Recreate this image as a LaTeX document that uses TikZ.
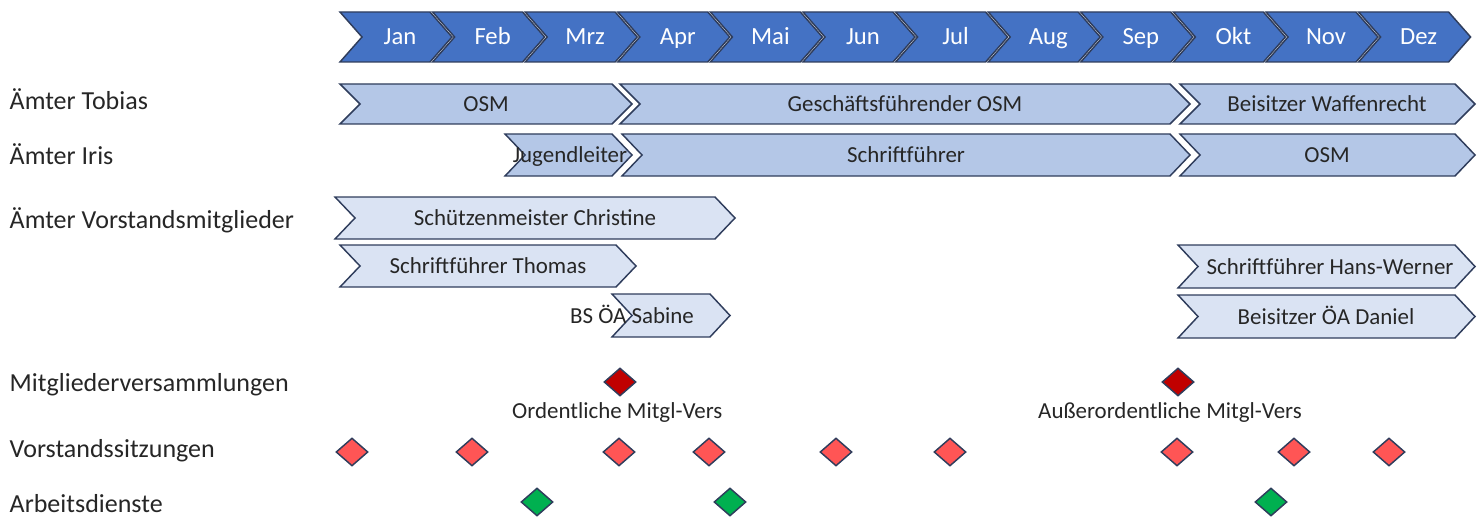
\documentclass[tikz,border=0pt]{standalone}
\usepackage{fontspec}
\setmainfont{Carlito}
\usetikzlibrary{shapes.geometric,positioning}

\definecolor{monthblue}{HTML}{4472C4}
\definecolor{barblue}{HTML}{B4C7E7}
\definecolor{paleblue}{HTML}{DAE3F3}
\definecolor{edgeblue}{HTML}{2F3D5C}
\definecolor{textgrey}{HTML}{262626}
\definecolor{mvred}{HTML}{C00000}
\definecolor{vsred}{HTML}{FF5555}
\definecolor{adgreen}{HTML}{00B050}

% chevron: [style]{left}{tip}{top}{bottom}{depth}
\newcommand{\chevron}[6][barstyle]{%
  \draw[#1] (#2,#4) -- ({#3-#6},#4) -- (#3,{(#4+#5)/2}) -- ({#3-#6},#5) -- (#2,#5) -- ({#2+#6},{(#4+#5)/2}) -- cycle;}

\begin{document}
\begin{tikzpicture}[x=0.75pt,y=0.75pt,yscale=-1,xscale=1,
  monthstyle/.style={fill=monthblue,draw=edgeblue,line width=1.1pt},
  barstyle/.style={fill=barblue,draw=edgeblue,line width=1.1pt},
  palestyle/.style={fill=paleblue,draw=edgeblue,line width=1.1pt},
  monthtext/.style={text=white,text height=11.7pt,text depth=0pt,font=\fontsize{18.5}{21}\selectfont},
  bartext/.style={text=textgrey,text height=10.9pt,text depth=0pt,font=\fontsize{17.2}{20}\selectfont},
  rowtext/.style={text=textgrey,anchor=west,text height=12.3pt,text depth=0pt,font=\fontsize{19.5}{22}\selectfont},
  dia/.style={diamond,draw=edgeblue,line width=1.1pt,minimum width=24pt,minimum height=21pt,inner sep=0pt},
  mvdia/.style={dia,fill=mvred},
  vsdia/.style={dia,fill=vsred},
  addia/.style={dia,fill=adgreen}]
\useasboundingbox (0,0) rectangle (1479,517);

%Months
\foreach \m [count=\i from 0] in {Jan,Feb,Mrz,Apr,Mai,Jun,Jul,Aug,Sep,Okt,Nov,Dez}{
  \pgfmathsetmacro{\xl}{340+\i*92.6}
  \chevron[monthstyle]{\xl}{\xl+112}{12}{62}{22}
  \node[monthtext] (m\i) at (\xl+60,37) {\m};
}

%Row labels
\node[rowtext] (tobias) at (5,101) {Ämter Tobias};
\node[rowtext] (iris) at (5,156) {Ämter Iris};
\node[rowtext] (vorstand) at (5,220) {Ämter Vorstandsmitglieder};
\node[rowtext] (mv) at (5,383) {Mitgliederversammlungen};
\node[rowtext] (vs) at (5,449) {Vorstandssitzungen};
\node[rowtext] (ad) at (5,504) {Arbeitsdienste};

%Ämter Tobias
\chevron{340}{632}{84}{124}{20}
\chevron{620}{1190}{84}{124}{20}
\chevron{1180}{1475}{84}{124}{20}
\node[bartext] (tob-osm) at (486,104) {OSM};
\node[bartext] (tob-gf) at (905,104) {Geschäftsführender OSM};
\node[bartext] (tob-bw) at (1327,104) {Beisitzer Waffenrecht};

%Ämter Iris
\chevron{505}{632}{134}{176}{20}
\chevron{622}{1190}{134}{176}{20}
\chevron{1180}{1475}{134}{176}{20}
\node[bartext] (iris-jl) at (570,155) {Jugendleiter};
\node[bartext] (iris-sf) at (906,155) {Schriftführer};
\node[bartext] (iris-osm) at (1327,155) {OSM};

%Vorstandsmitglieder
\chevron[palestyle]{335}{735}{197}{239}{20}
\chevron[palestyle]{340}{636}{245}{287}{20}
\chevron[palestyle]{612}{730}{294}{337}{20}
\chevron[palestyle]{1178}{1475}{245}{288}{20}
\chevron[palestyle]{1178}{1475}{295}{338}{20}
\node[bartext] (v-sm) at (535,218) {Schützenmeister Christine};
\node[bartext] (v-sft) at (488,266) {Schriftführer Thomas};
\node[bartext] (v-bs) at (632,316) {BS ÖA Sabine};
\node[bartext] (v-sfh) at (1330,267) {Schriftführer Hans-Werner};
\node[bartext] (v-bd) at (1326,317) {Beisitzer ÖA Daniel};

%Mitgliederversammlungen
\node[mvdia] (mv1) at (620,382) {};
\node[mvdia] (mv2) at (1178,382) {};
\node[bartext,below=2pt of mv1,xshift=-2pt] (mv1-txt) {Ordentliche Mitgl-Vers};
\node[bartext,below=2pt of mv2,xshift=-6pt] (mv2-txt) {Außerordentliche Mitgl-Vers};

%Vorstandssitzungen
\foreach \x [count=\i] in {352,472,619,709,836,950,1177,1294,1389}
  \node[vsdia] (vs\i) at (\x,452) {};

%Arbeitsdienste
\foreach \x [count=\i] in {537,730,1271}
  \node[addia] (ad\i) at (\x,502) {};
\end{tikzpicture}
\end{document}
